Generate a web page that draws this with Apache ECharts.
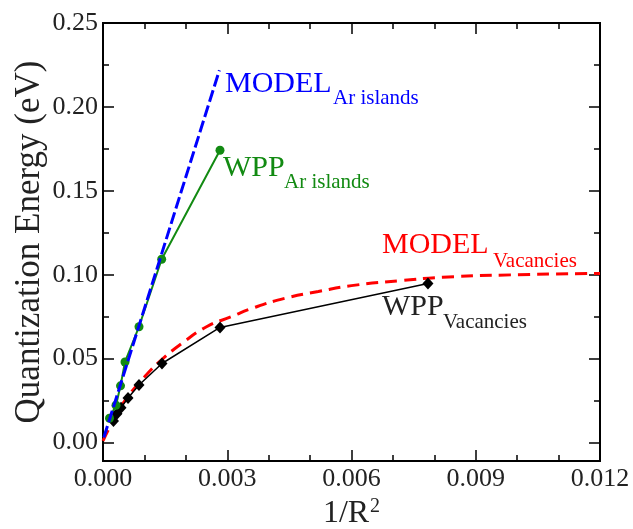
<!DOCTYPE html>
<html>
<head>
<meta charset="UTF-8">
<title>Quantization Energy</title>
<script src="https://cdn.jsdelivr.net/npm/echarts@6/dist/echarts.min.js"></script>
<style>
  html, body { margin: 0; padding: 0; background: #fff; }
  #chart { width: 633px; height: 529px; }
</style>
</head>
<body>
<div id="chart"></div>
<script>
// values
var xTicks = [0, 0.003, 0.006, 0.009, 0.012];
var yTicks = [0, 0.05, 0.10, 0.15, 0.20, 0.25];
var yMinor = [0.025, 0.075, 0.125, 0.175, 0.225];

var modelArX = [0.00002, 0.00281];
var modelArY = [0.003, 0.2218];

var wppArX = [0.000157, 0.000314, 0.000423, 0.000531, 0.000869, 0.001417, 0.002825];
var wppArY = [0.0145, 0.0222, 0.0338, 0.0480, 0.0690, 0.1092, 0.1742];

var modelVacX = [0, 0.0002, 0.0005, 0.001, 0.0014, 0.0019, 0.0025, 0.0031, 0.0036, 0.0044, 0.0052, 0.006, 0.0072, 0.0082, 0.010, 0.012];
var modelVacY = [0.001, 0.011, 0.024, 0.039, 0.049, 0.059, 0.069, 0.075, 0.080, 0.086, 0.090, 0.0935, 0.0965, 0.0985, 0.1000, 0.1008];

var wppVacX = [0.000253, 0.000338, 0.000435, 0.000604, 0.000869, 0.001424, 0.002825, 0.007846];
var wppVacY = [0.0129, 0.0171, 0.0207, 0.0266, 0.0343, 0.0471, 0.0686, 0.0948];

function pairs(xs, ys) {
    var out = [];
    for (var i = 0; i < xs.length; i++) out.push([xs[i], ys[i]]);
    return out;
}

var FONT = '"Liberation Serif", "DejaVu Serif", serif';
var Y_MIN = -0.011, Y_MAX = 0.25;

var chart = echarts.init(document.getElementById('chart'));

function yAxisDef(pos, ticks, len, labels) {
    return {
        type: 'value', position: pos, min: Y_MIN, max: Y_MAX,
        splitLine: { show: false },
        axisLine: { show: true, onZero: false, lineStyle: { color: '#000', width: 2 } },
        axisTick: { show: true, inside: true, length: len, customValues: ticks, lineStyle: { color: '#000', width: 1.5 } },
        axisLabel: labels ? {
            show: true, customValues: yTicks, margin: 5,
            fontFamily: FONT, fontSize: 26, color: '#222',
            formatter: function (v) { return v.toFixed(2); }
        } : { show: false }
    };
}

function xAxisDef(pos, labels) {
    return {
        type: 'value', position: pos, min: 0, max: 0.012, interval: 0.003,
        splitLine: { show: false },
        axisLine: { show: true, onZero: false, lineStyle: { color: '#000', width: 2 } },
        axisTick: { show: true, inside: true, length: 11, lineStyle: { color: '#000', width: 1.5 } },
        minorTick: { show: true, splitNumber: 3, length: 6, lineStyle: { color: '#000', width: 1.5 } },
        minorSplitLine: { show: false },
        axisLabel: labels ? {
            show: true, margin: 5, fontFamily: FONT, fontSize: 26, color: '#222',
            formatter: function (v) { return v.toFixed(3); }
        } : { show: false }
    };
}

var xMain = xAxisDef('bottom', true);
xMain.name = '{a|1/R}{b|2}';
xMain.nameLocation = 'middle';
xMain.nameGap = 36;
xMain.nameMoveOverlap = false;
xMain.nameTextStyle = {
    rich: {
        a: { fontFamily: FONT, fontSize: 32, color: '#222' },
        b: { fontFamily: FONT, fontSize: 20, color: '#222', verticalAlign: 'bottom', padding: [0, 0, 14, 1] }
    }
};

var yMain = yAxisDef('left', yTicks, 11, true);
yMain.name = 'Quantization Energy (eV)';
yMain.nameLocation = 'middle';
yMain.nameGap = 56;
yMain.nameMoveOverlap = false;
yMain.nameTextStyle = { fontFamily: FONT, fontSize: 35, color: '#222' };

function label(x, y, text, size, color) {
    return {
        type: 'text', left: x, top: y,
        style: { text: text, fontFamily: FONT, fontSize: size, fill: color }
    };
}

chart.setOption({
    animation: false,
    backgroundColor: '#fff',
    grid: { left: 103, right: 33, top: 23, bottom: 68, containLabel: false, outerBoundsMode: 'none' },
    xAxis: [xMain, xAxisDef('top', false)],
    yAxis: [
        yMain,
        yAxisDef('left', yMinor, 6, false),
        yAxisDef('right', yTicks, 11, false),
        yAxisDef('right', yMinor, 6, false)
    ],
    series: [
        {
            name: 'MODEL Vacancies', type: 'line', smooth: true, showSymbol: false, symbol: 'none',
            data: pairs(modelVacX, modelVacY), z: 2,
            lineStyle: { color: '#ff0000', width: 3, type: [12, 7] }
        },
        {
            name: 'WPP Vacancies', type: 'line', symbol: 'diamond', symbolSize: [11, 12],
            data: pairs(wppVacX, wppVacY), z: 3,
            itemStyle: { color: '#000' },
            lineStyle: { color: '#000', width: 1.5 }
        },
        {
            name: 'WPP Ar islands', type: 'line', symbol: 'circle', symbolSize: 9,
            data: pairs(wppArX, wppArY), z: 3,
            itemStyle: { color: '#128a12' },
            lineStyle: { color: '#128a12', width: 2 }
        },
        {
            name: 'MODEL Ar islands', type: 'line', symbol: 'none',
            data: pairs(modelArX, modelArY), z: 4,
            lineStyle: { color: '#0000ff', width: 3, type: [12, 4] }
        }
    ],
    graphic: [
        label(225, 69, 'MODEL', 30, '#0000ff'),
        label(333, 88, 'Ar islands', 21, '#0000ff'),
        label(223, 153, 'WPP', 30, '#128a12'),
        label(284, 172, 'Ar islands', 21, '#128a12'),
        label(382, 230, 'MODEL', 30, '#ff0000'),
        label(493, 251, 'Vacancies', 21, '#ff0000'),
        label(382, 292, 'WPP', 30, '#222'),
        label(443, 312, 'Vacancies', 21, '#222')
    ]
});
</script>
</body>
</html>
